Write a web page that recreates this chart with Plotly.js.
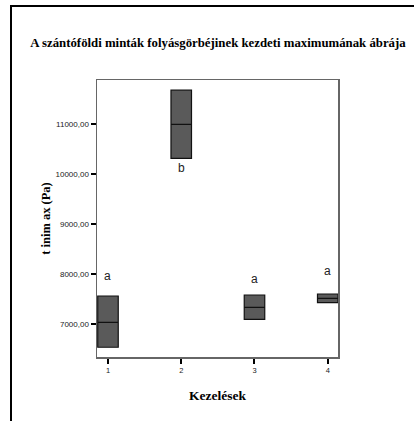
<!DOCTYPE html>
<html>
<head>
<meta charset="utf-8">
<script src="https://cdn.plot.ly/plotly-3.0.1.min.js"></script>
<style>html,body{margin:0;padding:0;background:#fff;}#chart{width:417px;height:421px;}</style>
</head>
<body>
<div id="chart"></div>
<script>
var categories = [1, 2, 3, 4];
var q1Values = [6540, 10320, 7100, 7432];
var medianValues = [7040, 11000, 7340, 7520];
var q3Values = [7566, 11686, 7586, 7606];
var groupLetters = ['a', 'b', 'a', 'a'];
var letterY = [7970, 10126, 7900, 8072];
var yTicks = [7000, 8000, 9000, 10000, 11000];

var W = 417, H = 421;
var m = {l: 97, r: 79, t: 80, b: 64};
var pw = W - m.l - m.r, ph = H - m.t - m.b;
function px(x) { return (x - m.l) / pw; }
function py(y) { return (H - m.b - y) / ph; }

var trace = {
  type: 'box',
  x: categories,
  q1: q1Values,
  median: medianValues,
  q3: q3Values,
  lowerfence: q1Values,
  upperfence: q3Values,
  width: 0.28,
  whiskerwidth: 0,
  fillcolor: '#5a5a5a',
  line: {color: '#111111', width: 1.2},
  boxpoints: false,
  hoverinfo: 'skip'
};

var annotations = categories.map(function (c, i) {
  return {x: c, y: letterY[i], xref: 'x', yref: 'y', text: groupLetters[i], showarrow: false,
    font: {family: 'Liberation Sans, Arial, sans-serif', size: 12, color: '#222'}};
});

var layout = {
  width: W, height: H,
  margin: m,
  paper_bgcolor: '#fff', plot_bgcolor: '#fff',
  showlegend: false,
  separators: ', ',
  title: {text: '<b>A szántóföldi minták folyásgörbéjinek kezdeti maximumának ábrája</b>',
    x: 218 / W, xanchor: 'center', y: 1 - 43 / H, yanchor: 'middle',
    font: {family: 'Liberation Serif, Times New Roman, serif', size: 12.8, color: '#000'}},
  xaxis: {
    range: [0.85, 4.14], tickvals: categories, ticktext: categories.map(String),
    ticks: 'outside', ticklen: 5, tickwidth: 2, tickcolor: '#000',
    showline: true, linecolor: '#666', linewidth: 1.5, mirror: true,
    showgrid: false, zeroline: false,
    tickfont: {family: 'Liberation Sans, Arial, sans-serif', size: 7.5, color: '#222'},
    title: {text: '<b>Kezelések</b>', standoff: 17,
      font: {family: 'Liberation Serif, Times New Roman, serif', size: 13.5, color: '#000'}}
  },
  yaxis: {
    range: [6345, 11890], tickvals: yTicks, tickformat: '.2f',
    ticks: 'outside', ticklen: 5, tickwidth: 2, tickcolor: '#000',
    showline: true, linecolor: '#666', linewidth: 1.5, mirror: true,
    showgrid: false, zeroline: false,
    tickfont: {family: 'Liberation Sans, Arial, sans-serif', size: 8, color: '#222'},
    title: {text: '<b>t inim ax (Pa)</b>', standoff: 2,
      font: {family: 'Liberation Serif, Times New Roman, serif', size: 12.5, color: '#000'}}
  },
  annotations: annotations,
  shapes: [
    {type: 'line', xref: 'paper', yref: 'paper', x0: px(11), x1: px(11), y0: py(6), y1: py(430), line: {color: '#000', width: 2}},
    {type: 'line', xref: 'paper', yref: 'paper', x0: px(10), x1: px(414), y0: py(6), y1: py(6), line: {color: '#000', width: 2}}
  ]
};

Plotly.newPlot('chart', [trace], layout, {displayModeBar: false, staticPlot: true});
</script>
</body>
</html>
